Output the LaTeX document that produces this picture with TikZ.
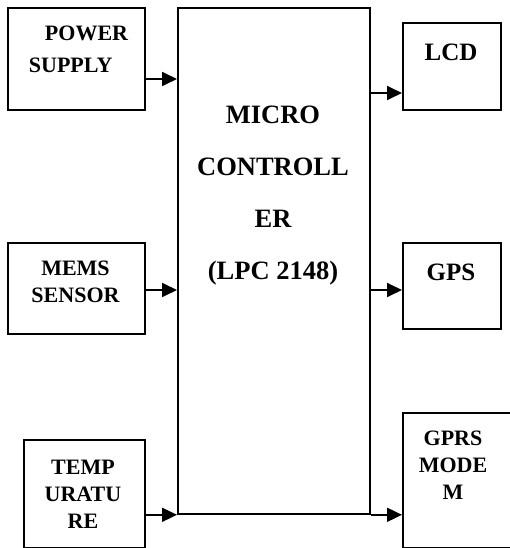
\documentclass[tikz,border=0pt]{standalone}
\usepackage{fontspec}
\setmainfont{Liberation Serif}
\usetikzlibrary{arrows.meta}
\begin{document}
\begin{tikzpicture}[x=1pt,y=-1pt,
  box/.style={draw, line width=1.8pt, inner sep=0pt, anchor=north west},
  lbl/.style={inner sep=0pt, align=center, text depth=0pt, font=\bfseries\fontsize{22}{27}\selectfont},
  mid/.style={inner sep=0pt, align=center, text depth=0pt, font=\bfseries\fontsize{25}{30}\selectfont},
  big/.style={inner sep=0pt, align=center, text depth=0pt, font=\bfseries\fontsize{26.5}{52}\selectfont},
  arr/.style={line width=1.8pt, -{Triangle[length=15pt,width=14pt]}}]
\useasboundingbox (0,0) rectangle (509,548);
% boxes
\node[box, minimum width=137pt, minimum height=102pt] (ps) at (7,7) {};
\node[box, minimum width=137pt, minimum height=91pt] (mems) at (7,242) {};
\node[box, minimum width=121pt, minimum height=108pt] (temp) at (23,439) {};
\node[box, minimum width=192pt, minimum height=506pt] (mc) at (177,7) {};
\node[box, minimum width=98pt, minimum height=87pt] (lcd) at (402,22) {};
\node[box, minimum width=98pt, minimum height=86pt] (gps) at (402,242) {};
\node[box, minimum width=108pt, minimum height=135pt] (gprs) at (402,412) {};
% texts
\node[lbl] (t1) at (86.5,33) {POWER};
\node[lbl] (t2) at (70.7,65) {SUPPLY};
\node[lbl] (t3) at (75.5,281.5) {MEMS\\SENSOR};
\node[lbl] (t4) at (83,494.5) {TEMP\\URATU\\RE};
\node[big] (t5) at (273,193) {MICRO\\CONTROLL\\ER\\(LPC 2148)};
\node[mid] (t6) at (451,52) {LCD};
\node[mid] (t7) at (451,272) {GPS};
\node[lbl] (t8) at (453,465) {GPRS\\MODE\\M};
% arrow rows
\coordinate (r1) at (0,79);
\coordinate (r2) at (0,93);
\coordinate (r3) at (0,290);
\draw[arr] (ps.east |- r1) -- (mc.west |- r1);
\draw[arr] (mems.east |- r3) -- (mc.west |- r3);
\draw[arr] (temp.east |- mc.south) -- (mc.south west);
\draw[arr] (mc.east |- r2) -- (lcd.west |- r2);
\draw[arr] (mc.east |- r3) -- (gps.west |- r3);
\draw[arr] (mc.south east) -- (gprs.west |- mc.south);
\end{tikzpicture}
\end{document}
